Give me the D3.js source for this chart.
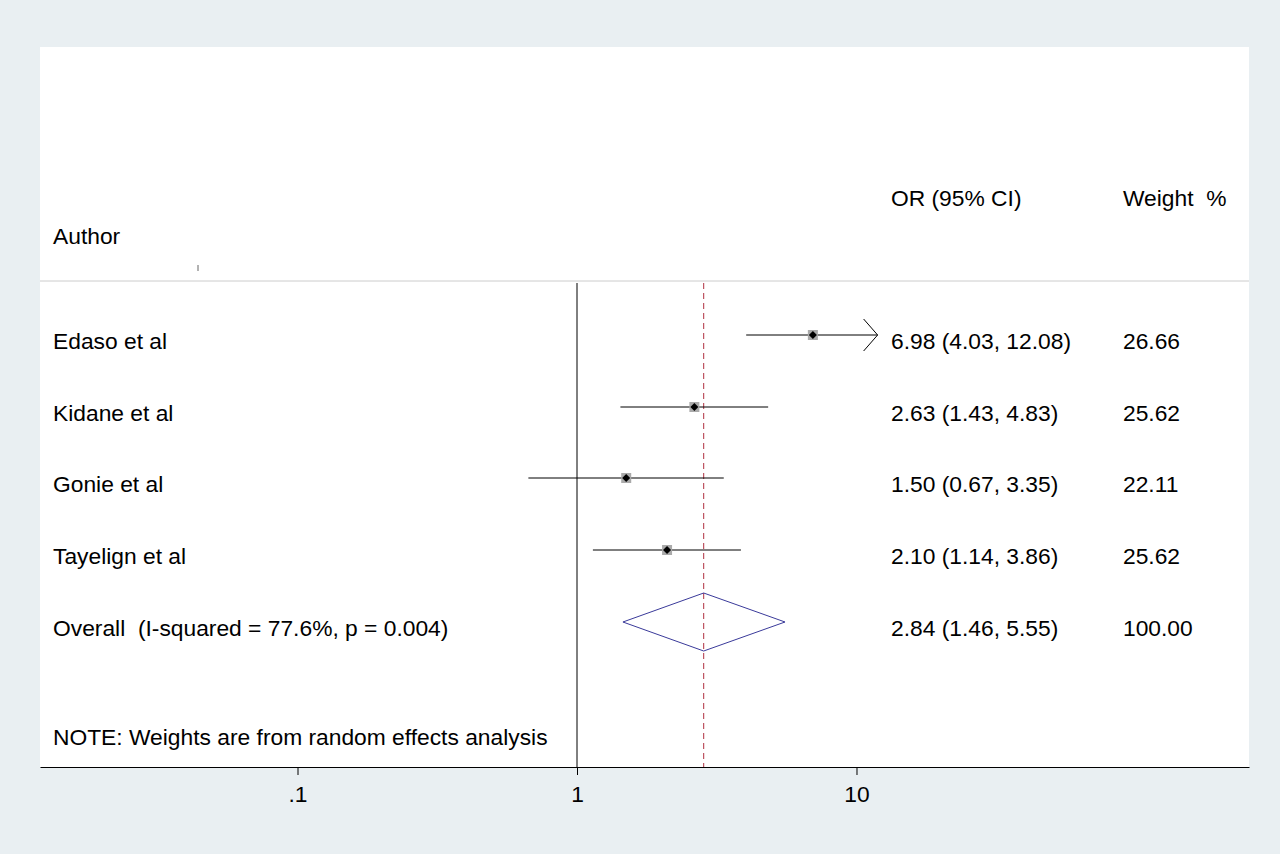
<!DOCTYPE html>
<html><head><meta charset="utf-8">
<script src="https://cdn.jsdelivr.net/npm/d3@7"></script>
<style>body{margin:0;background:#e9eff2}text{font-family:"Liberation Sans",Arial,sans-serif}</style>
</head><body>
<svg id="c" width="1280" height="854"></svg>
<script>
const authors=["Edaso et al","Kidane et al","Gonie et al","Tayelign et al"];
const or=[6.98,2.63,1.50,2.10];
const lo=[4.03,1.43,0.67,1.14];
const hi=[12.08,4.83,3.35,3.86];
const weights=["26.66","25.62","22.11","25.62"];
const overall={label:"Overall  (I-squared = 77.6%, p = 0.004)",or:2.84,lo:1.46,hi:5.55,w:"100.00"};
const ticks=[0.1,1,10];
const tickLabels=[".1","1","10"];
const clipMax=11.9;

const svg=d3.select("#c");
svg.append("rect").attr("width",1280).attr("height",854).attr("fill","#e9eff2");
svg.append("rect").attr("x",40).attr("y",47).attr("width",1209).attr("height",720).attr("fill","#fff");
const x=d3.scaleLog().domain([Math.pow(10,-1.9213),Math.pow(10,2.4043)]).range([40,1249]);
const rowY=[335,407,478,550,622];
const fs=22.8;
svg.append("text").attr("x",53).attr("y",244).attr("font-size",fs).text("Author");
svg.append("text").attr("x",891).attr("y",206).attr("font-size",fs).text("OR (95% CI)");
svg.append("text").attr("x",1123).attr("y",206).attr("font-size",fs).attr("xml:space","preserve").text("Weight  %");
svg.append("line").attr("x1",198).attr("x2",198).attr("y1",265).attr("y2",271).attr("stroke","#666");
svg.append("line").attr("x1",40).attr("x2",1249).attr("y1",281).attr("y2",281).attr("stroke","#ccc");
svg.append("line").attr("x1",x(1)).attr("x2",x(1)).attr("y1",283).attr("y2",767).attr("stroke","#000");
svg.append("line").attr("x1",x(overall.or)).attr("x2",x(overall.or)).attr("y1",283).attr("y2",767).attr("stroke","#b03040").attr("stroke-dasharray","6,4");
authors.forEach((a,i)=>{
  const y=rowY[i];
  const up=Math.min(hi[i],clipMax);
  svg.append("line").attr("x1",x(lo[i])).attr("x2",x(up)).attr("y1",y).attr("y2",y).attr("stroke","#000");
  if(hi[i]>clipMax){
    svg.append("path").attr("d",`M${x(up)-14},${y-16}L${x(up)},${y}L${x(up)-14},${y+16}`).attr("fill","none").attr("stroke","#000");
  }
  const s=10;
  svg.append("rect").attr("x",x(or[i])-s/2).attr("y",y-s/2).attr("width",s).attr("height",s).attr("fill","#aaa");
  svg.append("path").attr("d","M0,-4L4,0L0,4L-4,0Z").attr("transform",`translate(${x(or[i])},${y})`).attr("fill","#000");
  svg.append("text").attr("x",53).attr("y",y+14).attr("font-size",fs).text(a);
  svg.append("text").attr("x",891).attr("y",y+14).attr("font-size",fs).text(`${or[i].toFixed(2)} (${lo[i].toFixed(2)}, ${hi[i].toFixed(2)})`);
  svg.append("text").attr("x",1123).attr("y",y+14).attr("font-size",fs).text(weights[i]);
});
const oy=rowY[4];
svg.append("path").attr("d",`M${x(overall.lo)},${oy}L${x(overall.or)},${oy-29}L${x(overall.hi)},${oy}L${x(overall.or)},${oy+29}Z`).attr("fill","none").attr("stroke","#3a3a9a");
svg.append("text").attr("x",53).attr("y",oy+14).attr("font-size",fs).attr("xml:space","preserve").text(overall.label);
svg.append("text").attr("x",891).attr("y",oy+14).attr("font-size",fs).text(`${overall.or.toFixed(2)} (${overall.lo.toFixed(2)}, ${overall.hi.toFixed(2)})`);
svg.append("text").attr("x",1123).attr("y",oy+14).attr("font-size",fs).text(overall.w);
svg.append("text").attr("x",53).attr("y",745).attr("font-size",fs).text("NOTE: Weights are from random effects analysis");
const ax=svg.append("g").attr("transform","translate(0,767)").call(d3.axisBottom(x).tickValues(ticks).tickFormat((d,i)=>tickLabels[i]).tickSize(8).tickSizeOuter(0));
ax.select(".domain").attr("stroke","#000");
ax.selectAll("text").attr("font-size",fs).attr("dy","1.05em").attr("fill","#000");
</script></body></html>
